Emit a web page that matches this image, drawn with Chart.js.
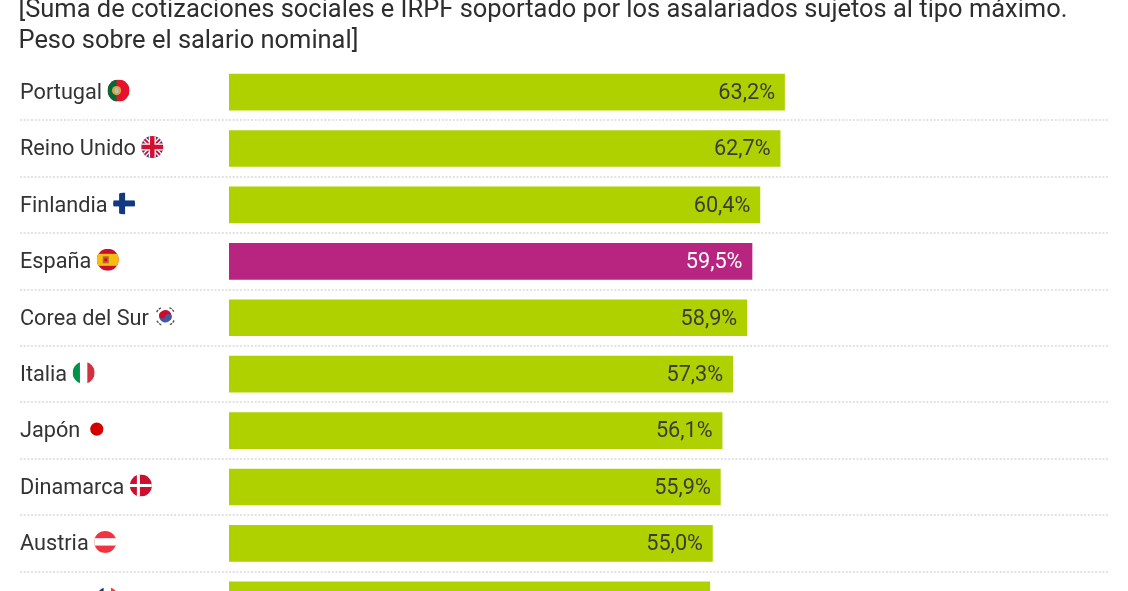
<!DOCTYPE html>
<html>
<head>
<meta charset="utf-8">
<style>
  html, body { margin: 0; padding: 0; background: #fff; width: 1128px; height: 591px; overflow: hidden; }
  canvas { display: block; margin-top: -5px; }
</style>
</head>
<body>
<canvas id="taxChart" width="1128" height="633"></canvas>
<script src="https://cdn.jsdelivr.net/npm/chart.js@4/dist/chart.umd.min.js"></script>
<script>
const titleLines = [
  '[Suma de cotizaciones sociales e IRPF soportado por los asalariados sujetos al tipo máximo.',
  'Peso sobre el salario nominal]'
];
const countries = ['Portugal', 'Reino Unido', 'Finlandia', 'España', 'Corea del Sur', 'Italia', 'Japón', 'Dinamarca', 'Austria', 'Francia'];
const values = [63.2, 62.7, 60.4, 59.5, 58.9, 57.3, 56.1, 55.9, 55.0, 54.7];
const flagCodes = ['pt', 'gb', 'fi', 'es', 'kr', 'it', 'jp', 'dk', 'at', 'fr'];

const GREEN = '#afd100';
const PURPLE = '#b72581';
const LABEL_FONT = '21.7px Roboto';

function rect(ctx, color, x, y, w, h) {
  ctx.fillStyle = color;
  ctx.fillRect(x, y, w, h);
}

function cross(ctx, color, cx, cy, w) {
  rect(ctx, color, cx - w / 2, -11, w, 22);
  rect(ctx, color, -11, cy - w / 2, 22, w);
}

// flags are drawn in a box of -11..11 around the centre
const flags = {
  pt(ctx) {
    rect(ctx, '#e8112d', -11, -11, 22, 22);
    rect(ctx, '#046a38', -11, -11, 9, 22);
    ctx.fillStyle = '#d9a441';
    ctx.beginPath(); ctx.arc(-2, 0, 4.6, 0, Math.PI * 2); ctx.fill();
    rect(ctx, '#b8bcd0', -3.8, -2.2, 3.6, 4.6);
  },
  gb(ctx) {
    rect(ctx, '#27407f', -11, -11, 22, 22);
    ctx.lineCap = 'butt';
    [[4.5, '#fff'], [2, '#d21034']].forEach(([w, c]) => {
      ctx.strokeStyle = c;
      ctx.lineWidth = w;
      ctx.beginPath();
      ctx.moveTo(-11, -11); ctx.lineTo(11, 11);
      ctx.moveTo(11, -11); ctx.lineTo(-11, 11);
      ctx.stroke();
    });
    cross(ctx, '#fff', 0, 0, 7);
    cross(ctx, '#d21034', 0, 0, 4.5);
  },
  fi(ctx) {
    rect(ctx, '#fff', -11, -11, 22, 22);
    cross(ctx, '#12397f', -2, 0, 6);
  },
  es(ctx) {
    rect(ctx, '#c8102e', -11, -11, 22, 22);
    rect(ctx, '#f5bd10', -11, -6, 22, 12);
    rect(ctx, '#b5652a', -5, -3.5, 6, 7);
    rect(ctx, '#c8102e', -3.5, -1.5, 3, 3);
  },
  kr(ctx) {
    rect(ctx, '#fff', -11, -11, 22, 22);
    ctx.fillStyle = '#cf0a2c';
    ctx.beginPath(); ctx.arc(0, 0, 6.3, Math.PI * 1.1, Math.PI * 2.1); ctx.fill();
    ctx.fillStyle = '#3f5aa6';
    ctx.beginPath(); ctx.arc(0, 0, 6.3, Math.PI * 0.1, Math.PI * 1.1); ctx.fill();
    ctx.fillStyle = '#cf0a2c';
    ctx.beginPath(); ctx.arc(-3, -1, 3.2, 0, Math.PI * 2); ctx.fill();
    ctx.fillStyle = '#3f5aa6';
    ctx.beginPath(); ctx.arc(3, 1, 3.2, 0, Math.PI * 2); ctx.fill();
    ctx.strokeStyle = '#555';
    ctx.lineWidth = 1.4;
    ctx.setLineDash([2.5, 1]);
    [0.75, 1.25, 1.75, 2.25].forEach(a => {
      ctx.beginPath();
      ctx.arc(0, 0, 9.6, Math.PI * (a - 0.11), Math.PI * (a + 0.11));
      ctx.stroke();
    });
    ctx.setLineDash([]);
  },
  it(ctx) {
    rect(ctx, '#fff', -11, -11, 22, 22);
    rect(ctx, '#009246', -11, -11, 7.3, 22);
    rect(ctx, '#d2303f', 3.7, -11, 7.3, 22);
  },
  jp(ctx) {
    ctx.fillStyle = '#d60000';
    ctx.beginPath(); ctx.arc(0, 0, 6.6, 0, Math.PI * 2); ctx.fill();
  },
  dk(ctx) {
    rect(ctx, '#cb102f', -11, -11, 22, 22);
    cross(ctx, '#fff', -2.5, 0, 3);
  },
  at(ctx) {
    rect(ctx, '#ef3340', -11, -11, 22, 22);
    rect(ctx, '#fff', -11, -3.7, 22, 7.4);
  },
  fr(ctx) {
    rect(ctx, '#fff', -11, -11, 22, 22);
    rect(ctx, '#12397f', -11, -11, 7.3, 22);
    rect(ctx, '#ef3340', 3.7, -11, 7.3, 22);
  }
};

// country names with round flags on the left, value labels inside the bars
const barExtras = {
  id: 'barExtras',
  afterDatasetsDraw(chart) {
    const ctx = chart.ctx;
    const yScale = chart.scales.y;
    const bars = chart.getDatasetMeta(0).data;
    const textLeft = yScale.left + 1.5;

    ctx.save();
    ctx.font = LABEL_FONT;
    ctx.textBaseline = 'middle';
    bars.forEach((bar, i) => {
      ctx.textAlign = 'right';
      ctx.fillStyle = countries[i] === 'España' ? '#fff' : '#3c3c3c';
      ctx.fillText(values[i].toFixed(1).replace('.', ',') + '%', bar.x - 9.5, bar.y + 1.5);
      ctx.textAlign = 'left';
      ctx.fillStyle = '#333';
      ctx.fillText(countries[i], textLeft, bar.y + 1.5);
    });
    ctx.restore();

    countries.forEach((name, i) => {
      ctx.save();
      ctx.font = LABEL_FONT;
      const x = textLeft + ctx.measureText(name).width + 16.5;
      const y = yScale.getPixelForTick(i) - 1.5;
      ctx.translate(x, y);
      ctx.beginPath();
      ctx.arc(0, 0, 11, 0, Math.PI * 2);
      ctx.clip();
      flags[flagCodes[i]](ctx);
      ctx.restore();
    });
  }
};

const data = {
  labels: countries,
  datasets: [{
    data: values,
    backgroundColor: countries.map(c => c === 'España' ? PURPLE : GREEN),
    barThickness: 36,
    borderWidth: 0
  }]
};

const config = {
  type: 'bar',
  data: data,
  plugins: [barExtras],
  options: {
    indexAxis: 'y',
    responsive: false,
    animation: false,
    layout: { padding: { left: 18.5, right: 20, top: 0, bottom: 0 } },
    plugins: {
      legend: { display: false },
      tooltip: { enabled: false },
      title: {
        display: true,
        text: titleLines,
        align: 'start',
        color: '#2e2e2e',
        font: { family: 'Roboto', size: 25.45, weight: 'normal', lineHeight: 1.22 },
        padding: { top: 0, bottom: 6.8 }
      }
    },
    scales: {
      x: { display: false, min: 0, max: 100 },
      y: {
        afterFit(scale) { scale.width = 210.5; },
        border: { display: false, dash: [2, 1.67] },
        grid: {
          color: ctx => ctx.index === 0 ? 'rgba(0,0,0,0)' : '#e2e2e2',
          tickLength: 209,
          tickBorderDash: [2, 1.67],
          lineWidth: 2
        },
        ticks: { display: false, autoSkip: false }
      }
    }
  }
};

new Chart(document.getElementById('taxChart').getContext('2d'), config);
</script>
</body>
</html>
